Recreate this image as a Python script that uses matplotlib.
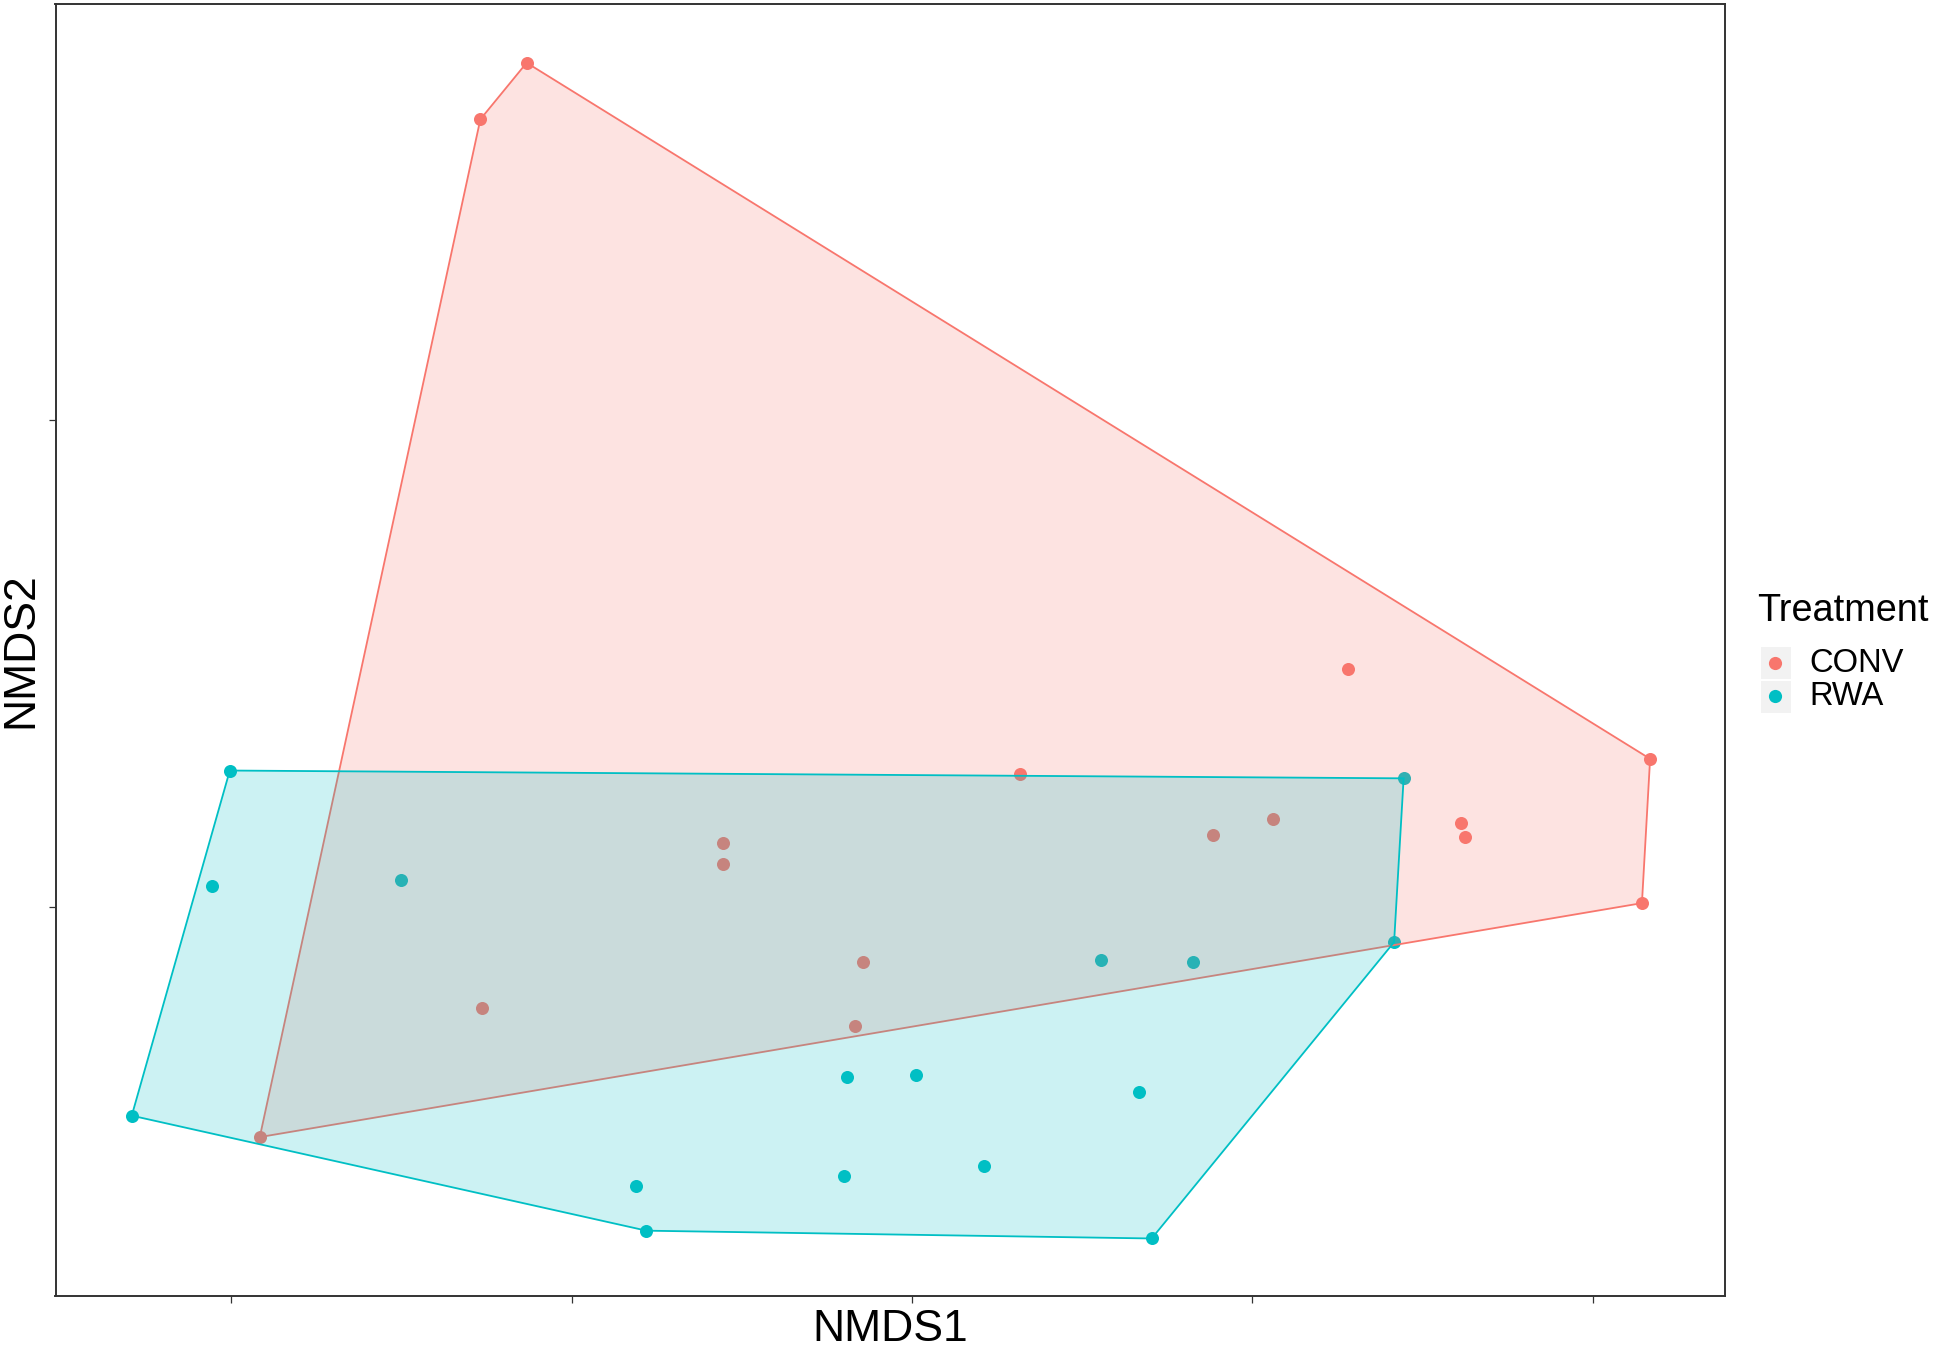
"""NMDS ordination with convex hulls per treatment."""

import matplotlib.pyplot as plt
import numpy as np
from matplotlib.patches import Polygon, Rectangle

# NMDS scores
conv_x = [-0.283, -0.317, 0.542, 0.536, -0.479, 0.320, 0.079, 0.265,
          0.221, 0.403, 0.406, -0.139, -0.139, -0.036, -0.316, -0.042]
conv_y = [0.433, 0.404, 0.076, 0.002, -0.118, 0.122, 0.068, 0.045,
          0.037, 0.043, 0.036, 0.033, 0.022, -0.028, -0.052, -0.061]

rwa_x = [-0.501, 0.361, 0.354, 0.176, -0.195, -0.573, -0.514, -0.375,
         0.139, 0.206, -0.048, 0.003, 0.167, -0.203, -0.050, 0.053]
rwa_y = [0.070, 0.066, -0.018, -0.170, -0.166, -0.107, 0.011, 0.014,
         -0.027, -0.028, -0.087, -0.086, -0.095, -0.143, -0.138, -0.133]

groups = ["CONV", "RWA"]
colors = {"CONV": "#F8766D", "RWA": "#00BFC4"}
data = {"CONV": (conv_x, conv_y), "RWA": (rwa_x, rwa_y)}

x_ticks = [-0.5, -0.25, 0.0, 0.25, 0.5]
y_ticks = [0.0, 0.25]
x_lim = (-0.629, 0.597)
y_lim = (-0.1995, 0.4633)


def convex_hull(xs, ys):
    pts = sorted(set(zip(xs, ys)))

    def cross(o, a, b):
        return (a[0] - o[0]) * (b[1] - o[1]) - (a[1] - o[1]) * (b[0] - o[0])

    lower, upper = [], []
    for p in pts:
        while len(lower) >= 2 and cross(lower[-2], lower[-1], p) <= 0:
            lower.pop()
        lower.append(p)
    for p in reversed(pts):
        while len(upper) >= 2 and cross(upper[-2], upper[-1], p) <= 0:
            upper.pop()
        upper.append(p)
    return np.array(lower[:-1] + upper[:-1])


W, H = 1935, 1345
fig = plt.figure(figsize=(W / 100, H / 100), dpi=100)
plt.rcParams["font.family"] = ["Liberation Sans", "DejaVu Sans"]

ax = fig.add_axes([55.5 / W, 1 - 1296 / H, (1725 - 55.5) / W, (1296 - 3.7) / H])

# points first, hulls drawn over them (as in the ggplot original)
for g in groups:
    xs, ys = data[g]
    ax.scatter(xs, ys, s=88, color=colors[g], linewidths=0, zorder=1)

for i, g in enumerate(groups):
    xs, ys = data[g]
    hull = convex_hull(xs, ys)
    ax.add_patch(Polygon(hull, closed=True, facecolor=colors[g], alpha=0.2,
                         edgecolor="none", zorder=2 + i))
    ax.add_patch(Polygon(hull, closed=True, facecolor="none",
                         edgecolor=colors[g], linewidth=1.3, zorder=2 + i))

ax.set_xlim(*x_lim)
ax.set_ylim(*y_lim)
ax.set_xticks(x_ticks)
ax.set_yticks(y_ticks)
ax.set_xticklabels([])
ax.set_yticklabels([])
ax.tick_params(length=5, width=0.9, color="#333333")
for sp in ax.spines.values():
    sp.set_color("#333333")
    sp.set_linewidth(1.4)
ax.set_xlabel("NMDS1", fontsize=32, labelpad=1.2)
ax.set_ylabel("NMDS2", fontsize=32, labelpad=1.5)

# legend, laid out in pixel space
lax = fig.add_axes([0, 0, 1, 1], facecolor="none")
lax.set_xlim(0, W)
lax.set_ylim(H, 0)
lax.axis("off")
lax.text(1757, 611, "Treatment", fontsize=27.3, ha="left", va="center")
for i, g in enumerate(groups):
    y0 = 647 + i * 33.5
    lax.add_patch(Rectangle((1761, y0), 30, 32, facecolor="#F2F2F2",
                            edgecolor="none"))
    lax.scatter([1775], [y0 + 15.5], s=90, color=colors[g], linewidths=0)
    lax.text(1809, y0 + 16, g, fontsize=23.6, ha="left", va="center")

fig.savefig("out.png", dpi=100)
